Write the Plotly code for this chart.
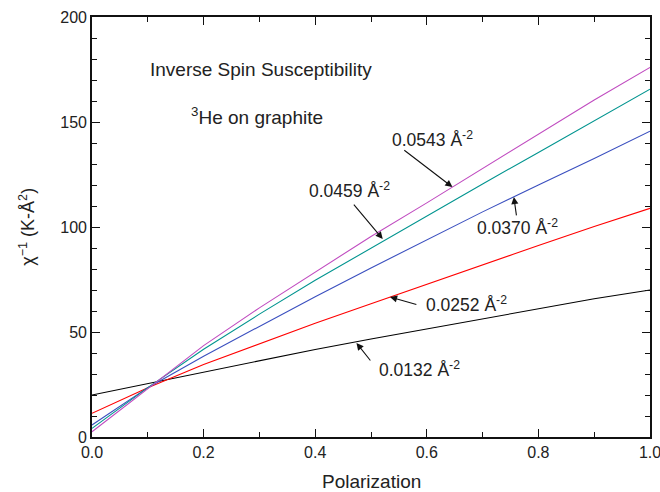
import plotly.graph_objects as go

# Polarization values (x)
polarization = [0.0, 0.1, 0.2, 0.3, 0.4, 0.5, 0.6, 0.7, 0.8, 0.9, 1.0]

# Inverse susceptibility curves for each coverage
chi_0132 = [20.0, 25.5, 31.0, 36.3, 41.7, 46.7, 51.5, 56.2, 61.0, 65.8, 70.0]
chi_0252 = [11.3, 23.5, 34.5, 44.5, 54.2, 63.5, 72.8, 82.0, 91.2, 100.2, 108.9]
chi_0370 = [5.7, 23.5, 38.5, 52.7, 66.8, 80.5, 94.0, 107.2, 120.0, 132.6, 145.6]
chi_0459 = [4.1, 23.5, 41.8, 58.5, 74.6, 90.0, 105.3, 120.5, 135.5, 150.5, 165.6]
chi_0543 = [2.5, 23.0, 43.5, 61.5, 78.7, 95.5, 111.5, 127.8, 144.2, 160.5, 176.0]

series_names = ["0.0132", "0.0252", "0.0370", "0.0459", "0.0543"]
series_values = [chi_0132, chi_0252, chi_0370, chi_0459, chi_0543]
series_colors = ["#000000", "#ff0000", "#3a4fbf", "#00948f", "#c04cc0"]

# Label annotations: (name, text x, text y, arrow tail x, tail y, arrow tip x, tip y)
labels = [
    ("0.0543", 0.611, 141.9, 0.557, 137.1, 0.646, 119.0),
    ("0.0459", 0.462, 117.6, 0.467, 111.4, 0.521, 94.3),
    ("0.0370", 0.763, 100.0, 0.761, 104.8, 0.756, 114.3),
    ("0.0252", 0.672, 63.3, 0.584, 62.9, 0.534, 66.7),
    ("0.0132", 0.587, 32.6, 0.501, 35.7, 0.474, 44.8),
]

FONT = "Liberation Sans, Arial, sans-serif"
TXT = "#222222"

fig = go.Figure()
for name, vals, col in zip(series_names, series_values, series_colors):
    fig.add_trace(go.Scatter(x=polarization, y=vals, mode="lines", name=name,
                             line=dict(color=col, width=1.1), showlegend=False))

annotations = []
for name, tx, ty, ax, ay, hx, hy in labels:
    annotations.append(dict(x=tx, y=ty, xref="x", yref="y", showarrow=False,
                            text=f"{name} Å<sup>-2</sup>",
                            font=dict(family=FONT, size=17.5, color=TXT)))
    annotations.append(dict(x=hx, y=hy, ax=ax, ay=ay, xref="x", yref="y",
                            axref="x", ayref="y", text="", showarrow=True,
                            arrowhead=2, arrowsize=1.3, arrowwidth=1.1,
                            arrowcolor="#111111", standoff=0, startstandoff=0))

annotations.append(dict(x=0.303, y=174.8, xref="x", yref="y", showarrow=False,
                        text="Inverse Spin Susceptibility",
                        font=dict(family=FONT, size=19, color=TXT)))
annotations.append(dict(x=0.296, y=153.0, xref="x", yref="y", showarrow=False,
                        text="<sup>3</sup>He on graphite",
                        font=dict(family=FONT, size=19, color=TXT)))
annotations.append(dict(x=0.5, y=-0.105, xref="paper", yref="paper", showarrow=False,
                        text="Polarization", xanchor="center", yanchor="middle",
                        font=dict(family=FONT, size=19, color=TXT)))
annotations.append(dict(x=-0.117, y=0.5, xref="paper", yref="paper", showarrow=False,
                        text="χ<sup>−1</sup> (K-Å<sup>2</sup>)", textangle=-90,
                        xanchor="center", yanchor="middle",
                        font=dict(family=FONT, size=18, color=TXT)))

axis_common = dict(showgrid=False, zeroline=False, showline=True, linecolor="#111111",
                   linewidth=1.7, mirror="allticks", ticks="inside", ticklen=8,
                   tickwidth=1.3, tickcolor="#111111", automargin=False,
                   ticklabeloverflow="allow",
                   tickfont=dict(family=FONT, size=16, color=TXT))

fig.update_xaxes(range=[0, 1], dtick=0.2, tickformat=".1f",
                 minor=dict(dtick=0.1, ticks="inside", ticklen=5, tickcolor="#111111", tickwidth=1.3),
                 **axis_common)
fig.update_yaxes(range=[0, 200], dtick=50,
                 minor=dict(dtick=10, ticks="inside", ticklen=5, tickcolor="#111111", tickwidth=1.3),
                 **axis_common)

fig.update_layout(width=660, height=492, margin=dict(l=92, r=10, t=17, b=55),
                  plot_bgcolor="white", paper_bgcolor="white",
                  annotations=annotations, showlegend=False)

fig.write_html("out.html")
